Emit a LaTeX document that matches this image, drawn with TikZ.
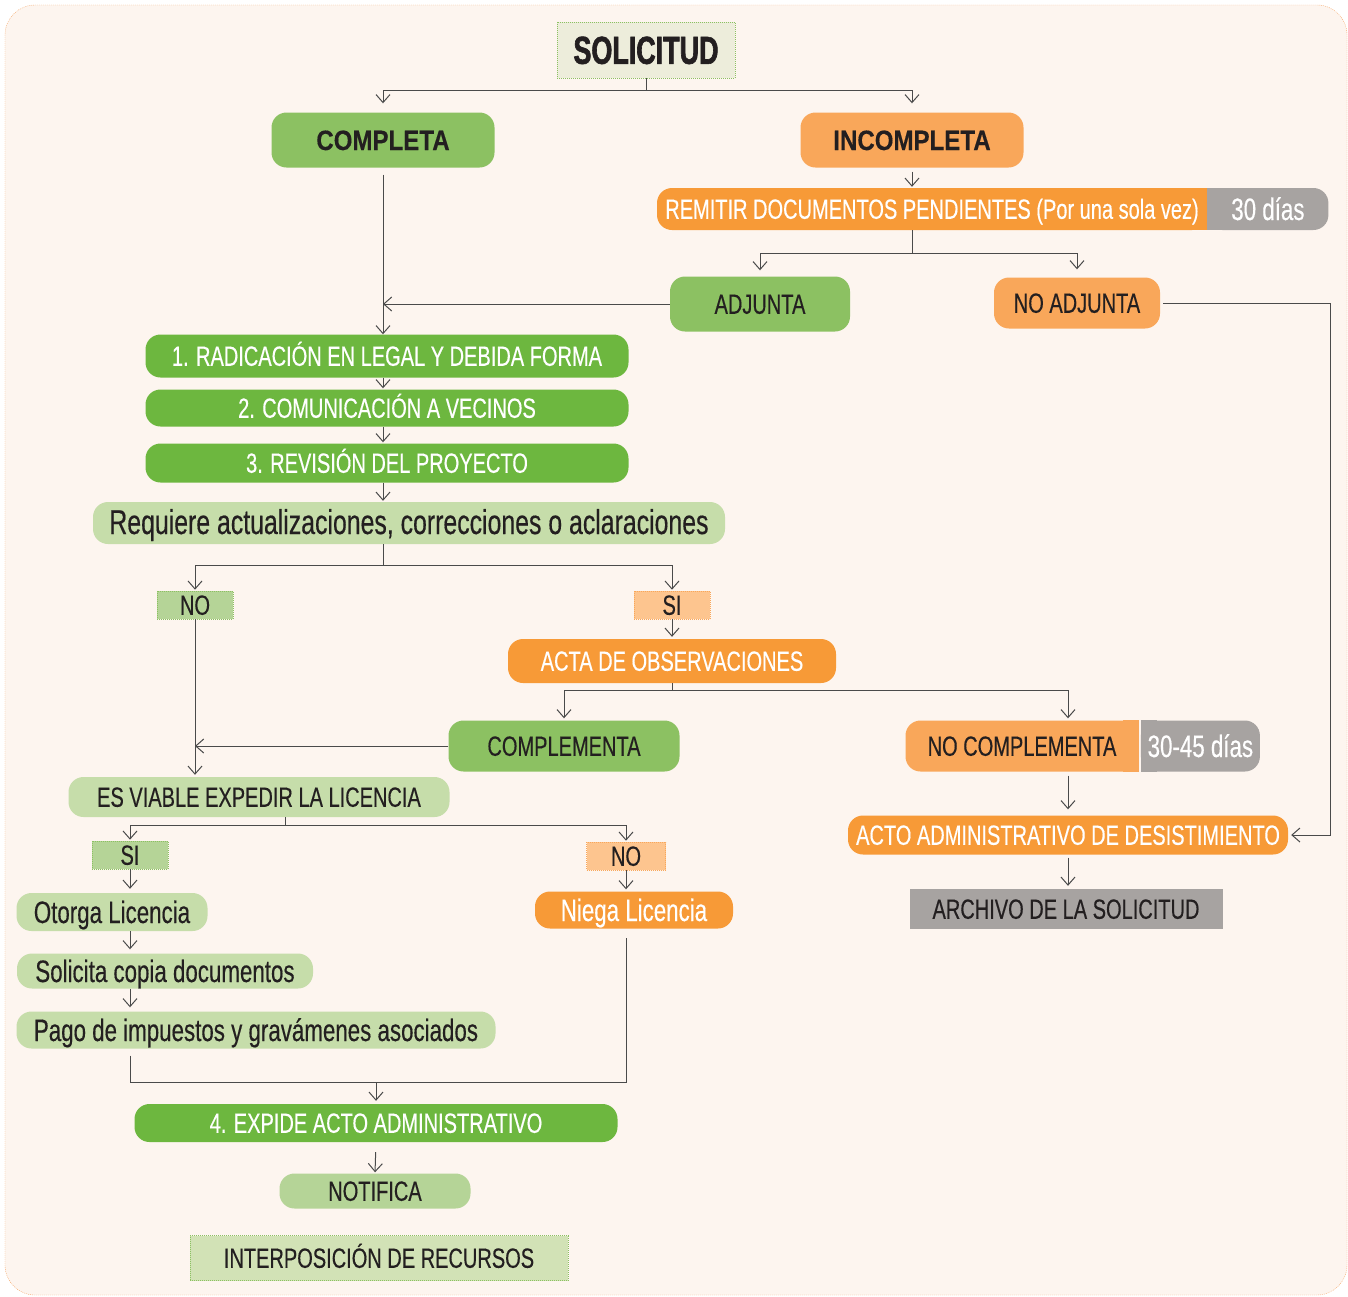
\documentclass[tikz,border=0pt]{standalone}
\usepackage{fontspec}
\setmainfont{Liberation Sans}[FakeStretch=0.72, FakeBold=0.35, BoldFeatures={FakeStretch=0.86, FakeBold=0.3}]
\newfontfamily\titlefont{Liberation Sans}[FakeStretch=0.69, BoldFeatures={FakeStretch=0.69, FakeBold=1.6}]
\usetikzlibrary{arrows.meta,backgrounds}

\definecolor{fondo}{HTML}{FDF5EF}
\definecolor{borde}{HTML}{F5A86A}
\definecolor{verdemedio}{HTML}{8CC162}
\definecolor{verdepaso}{HTML}{6DB73F}
\definecolor{verdeclaro}{HTML}{C6DDAA}
\definecolor{verdetag}{HTML}{B5D497}
\definecolor{verdepalido}{HTML}{D2E2B6}
\definecolor{naranjaclaro}{HTML}{F9A75A}
\definecolor{naranjafuerte}{HTML}{F79A37}
\definecolor{durazno}{HTML}{FDC58F}
\definecolor{gris}{HTML}{A7A3A1}
\definecolor{crema}{HTML}{EDEDDB}
\definecolor{tinta}{HTML}{231F20}
\definecolor{linea}{HTML}{4A4A4A}

\begin{document}
\begin{tikzpicture}[x=1pt,y=-1pt,
	caja/.style={rectangle, rounded corners=15pt, inner sep=0pt, text=tinta, text height=19.5pt, text depth=0pt, font=\fontsize{27.8}{30}\selectfont},
	verde/.style={caja, fill=verdemedio},
	paso/.style={caja, fill=verdepaso, text=white},
	suave/.style={caja, fill=verdeclaro},
	naranja/.style={caja, fill=naranjaclaro},
	fuerte/.style={caja, fill=naranjafuerte, text=white},
	plazo/.style={caja, fill=gris, text=white, text height=22pt, font=\fontsize{31}{33}\selectfont},
	negrita/.style={font=\bfseries\fontsize{28}{30}\selectfont, text height=20pt},
	minus/.style={font=\fontsize{31}{33}\selectfont, text height=22pt},
	tag/.style={caja, sharp corners, draw, dash pattern=on 1pt off 1pt, line width=0.6pt, minimum width=76, minimum height=28},
	titulo/.style={rectangle, inner sep=0pt, fill=crema, draw=verdemedio, dash pattern=on 1pt off 1pt, line width=0.8pt, text=tinta, text height=28pt, font=\titlefont\bfseries\fontsize{39}{40}\selectfont},
	flecha/.style={draw=linea, line width=1pt, -{Straight Barb[length=8pt,width=14pt]}},
	trazo/.style={draw=linea, line width=1pt}]
	\useasboundingbox (0,0) rectangle (1348,1296);

	% cabecera
	\node[titulo, minimum width=178, minimum height=56] (sol) at (646,50) {SOLICITUD};
	\node[verde, negrita, minimum width=223, minimum height=55] (completa) at (383,140) {COMPLETA};
	\node[naranja, negrita, minimum width=223, minimum height=55] (incompleta) at (912,140) {INCOMPLETA};
	\node[fuerte, minimum width=550, minimum height=42] (remitir) at (932,209) {REMITIR DOCUMENTOS PENDIENTES (Por una sola vez)};
	\node[plazo, anchor=west, minimum width=121, minimum height=42] (dias30) at (remitir.east) {30 días};
	\node[verde, minimum width=180, minimum height=55] (adjunta) at (760,304) {ADJUNTA};
	\node[naranja, minimum width=166, minimum height=51] (noadjunta) at (1077,303) {NO ADJUNTA};

	% pasos
	\node[paso, minimum width=483, minimum height=43] (radica) at (387,356) {1. RADICACIÓN EN LEGAL Y DEBIDA FORMA};
	\node[paso, minimum width=483, minimum height=37] (comunica) at (387,408) {2. COMUNICACIÓN A VECINOS};
	\node[paso, minimum width=483, minimum height=39] (revisa) at (387,463) {3. REVISIÓN DEL PROYECTO};
	\node[suave, minus, font=\fontsize{34.5}{36}\selectfont, minimum width=632, minimum height=42] (requiere) at (409,523) {Requiere actualizaciones, correcciones o aclaraciones};
	\node[tag, fill=verdetag, draw=verdemedio] (no1) at (195,605) {NO};
	\node[tag, fill=durazno, draw=naranjaclaro] (si1) at (672,605) {SI};
	\node[fuerte, minimum width=328, minimum height=44] (acta) at (672,661) {ACTA DE OBSERVACIONES};
	\node[verde, minimum width=231, minimum height=51] (complementa) at (564,746) {COMPLEMENTA};
	\node[naranja, minimum width=233, minimum height=51] (nocomplementa) at (1022,746) {NO COMPLEMENTA};
	\node[plazo, anchor=west, minimum width=119, minimum height=51] (dias45) at ([xshift=2pt]nocomplementa.east) {30-45 días};
	\node[fuerte, minimum width=440, minimum height=39] (acto) at (1068,835) {ACTO ADMINISTRATIVO DE DESISTIMIENTO};
	\node[caja, sharp corners, fill=gris, minimum width=313, minimum height=40] (archivo) at (1066,909) {ARCHIVO DE LA SOLICITUD};

	% licencia
	\node[suave, minimum width=381, minimum height=40] (viable) at (259,797) {ES VIABLE EXPEDIR LA LICENCIA};
	\node[tag, fill=verdetag, draw=verdemedio] (si2) at (130,855) {SI};
	\node[tag, fill=durazno, draw=naranjaclaro, minimum width=79] (no2) at (626,856) {NO};
	\node[suave, minus, minimum width=191, minimum height=38] (otorga) at (112,912) {Otorga Licencia};
	\node[suave, minus, minimum width=296, minimum height=35] (copia) at (165,971) {Solicita copia documentos};
	\node[suave, minus, minimum width=479, minimum height=37] (pago) at (256,1030) {Pago de impuestos y gravámenes asociados};
	\node[fuerte, minus, minimum width=198, minimum height=37] (niega) at (634,910) {Niega Licencia};
	\node[paso, minimum width=483, minimum height=38] (expide) at (376,1123) {4. EXPIDE ACTO ADMINISTRATIVO};
	\node[caja, fill=verdetag, minimum width=191, minimum height=35] (notifica) at (375,1191) {NOTIFICA};
	\node[caja, sharp corners, fill=verdepalido, draw=verdemedio, dash pattern=on 1pt off 1pt, minimum width=378, minimum height=45] (recursos) at (379,1258) {INTERPOSICIÓN DE RECURSOS};

	% conectores
	\draw[flecha, shorten >=9pt] (sol.south) -- ++(0,12) -| (completa.north);
	\draw[flecha, shorten >=9pt] (sol.south) -- ++(0,12) -| (incompleta.north);
	\draw[flecha, shorten <=7pt] (completa.south) -- (completa.south |- radica.north);
	\draw[flecha, shorten <=4pt, shorten >=1pt] (incompleta.south) -- (incompleta.south |- remitir.north);
	\draw[flecha, shorten >=6pt] (remitir.south -| incompleta.south) -- ++(0,23) -| (adjunta.north);
	\draw[flecha, shorten >=8pt] (remitir.south -| incompleta.south) -- ++(0,23) -| (noadjunta.north);
	\draw[flecha] (adjunta.west) -- (adjunta.west -| completa.south);
	\draw[flecha, shorten <=3pt, shorten >=3pt] (noadjunta.east) -- ++(170,0) |- (acto.east);
	\foreach \a/\b in {radica/comunica, comunica/revisa, revisa/requiere}
		\draw[flecha, shorten >=1pt] (\a.south -| completa.south) -- (completa.south |- \b.north);
	\draw[flecha, shorten >=1pt] (requiere.south -| completa.south) -- ++(0,21) -| (no1.north);
	\draw[flecha, shorten >=1pt] (requiere.south -| completa.south) -- ++(0,21) -| (si1.north);
	\draw[flecha, shorten >=2pt] (si1.south) -- (acta.north);
	\draw[flecha, shorten >=2pt] (acta.south) -- ++(0,7) -| (complementa.north);
	\draw[flecha, shorten >=2pt] (acta.south) -- ++(0,7) -| (nocomplementa.north -| acto.north);
	\draw[flecha, shorten >=2pt] (no1.south) -- (no1.south |- viable.north);
	\draw[flecha] (complementa.west) -- (complementa.west -| no1.south);
	\draw[flecha, shorten <=4pt, shorten >=6pt] (nocomplementa.south -| acto.north) -- (acto.north);
	\draw[flecha, shorten <=3pt, shorten >=3pt] (acto.south) -- (acto.south |- archivo.north);
	\draw[flecha, shorten >=1pt] ([xshift=26pt]viable.south) -- ++(0,8) -| (si2.north);
	\draw[flecha, shorten >=1pt] ([xshift=26pt]viable.south) -- ++(0,8) -| (no2.north);
	\foreach \a/\b in {si2/otorga, otorga/copia, copia/pago}
		\draw[flecha, shorten >=4pt] (\a.south -| si2.south) -- (\b.north -| si2.south);
	\draw[flecha, shorten >=2pt] (no2.south) -- (niega.north -| no2.south);
	\draw[trazo, shorten <=7pt] (pago.south -| si2.south) -- ++(0,34) coordinate (junta) -| ([yshift=-9pt]niega.south -| no2.south);
	\draw[flecha, shorten >=3pt] (junta -| expide.north) -- (expide.north);
	\draw[flecha, shorten <=10pt, shorten >=1pt] (expide.south) -- (notifica.north);

	\begin{pgfonlayer}{background}
		\path[fill=fondo, draw=borde, dash pattern=on 1pt off 1pt, rounded corners=30pt] (5,5) rectangle (1347,1295);
		\fill[naranjafuerte] ([xshift=-16pt]remitir.north east) rectangle (remitir.south east);
		\fill[gris] (dias30.north west) rectangle ([xshift=16pt]dias30.south west);
		\fill[naranjaclaro] ([xshift=-16pt]nocomplementa.north east) rectangle (nocomplementa.south east);
		\fill[gris] (dias45.north west) rectangle ([xshift=16pt]dias45.south west);
	\end{pgfonlayer}
\end{tikzpicture}
\end{document}
